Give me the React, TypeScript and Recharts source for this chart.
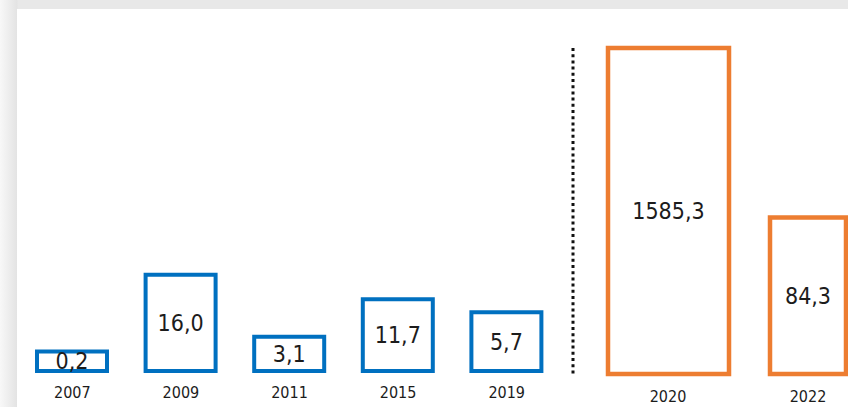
import React from "react";
import { BarChart, Bar, XAxis, YAxis, LabelList } from "recharts";

// blue period, values shown inside the boxes
const blueYears = ["2007", "2009", "2011", "2015", "2019"];
const blueValues = [0.2, 16.0, 3.1, 11.7, 5.7];
// drawn box heights (schematic, 2020 box = 100)
const blueHeights = [6, 29.5, 10.5, 22, 18];

// orange period
const orangeYears = ["2020", "2022"];
const orangeValues = [1585.3, 84.3];
const orangeHeights = [100, 48];

const BLUE = "#0070c0";
const ORANGE = "#ed7d31";
const TEXT = "#1c1c1c";
const FONT = "'Liberation Sans Narrow', 'DejaVu Sans Condensed', 'Open Sans', sans-serif";

const fmt = (v: any) => Number(v).toFixed(1).replace(".", ",");

const blueData = blueYears.map((year, i) => ({
  year,
  value: blueValues[i],
  h: blueHeights[i],
}));

const orangeData = orangeYears.map((year, i) => ({
  year,
  value: orangeValues[i],
  wide: i === 0 ? orangeHeights[i] : null,
  narrow: i === 1 ? orangeHeights[i] : null,
}));

const labelStyle = { fontSize: 23, fill: TEXT, fontFamily: FONT };
const tickStyle = { fontSize: 16, fill: TEXT, fontFamily: FONT };

export default function App() {
  return (
    <div
      style={{
        position: "absolute",
        left: 0,
        top: 0,
        width: 848,
        height: 407,
        overflow: "hidden",
        background: "linear-gradient(to right, #f8f8f8 0px, #e3e3e3 17px, #e8e8e8 18px)",
      }}
    >
      <div
        style={{
          position: "absolute",
          left: 17,
          top: 9,
          right: 0,
          bottom: 0,
          background: "#fff",
        }}
      />
      <div style={{ position: "absolute", left: 18, top: 0 }}>
        <BarChart
          width={543}
          height={407}
          data={blueData}
          margin={{ top: 45, right: 0, bottom: 0, left: 0 }}
          barSize={70}
        >
          <XAxis
            dataKey="year"
            height={36}
            axisLine={false}
            tickLine={false}
            tickSize={0}
            tickMargin={16}
            tick={tickStyle}
            interval={0}
          />
          <YAxis hide domain={[0, 100]} />
          <Bar dataKey="h" fill="#fff" stroke={BLUE} strokeWidth={4} isAnimationActive={false}>
            <LabelList dataKey="value" position="center" formatter={fmt} style={labelStyle} />
          </Bar>
        </BarChart>
      </div>
      <div style={{ position: "absolute", left: 563, top: 0 }}>
        <BarChart
          width={315}
          height={407}
          data={orangeData}
          margin={{ top: 48, right: 0, bottom: 0, left: 0 }}
        >
          <XAxis
            xAxisId="wide"
            dataKey="year"
            height={33}
            padding={{ left: 25, right: 0 }}
            axisLine={false}
            tickLine={false}
            tickSize={0}
            tickMargin={17}
            tick={tickStyle}
            interval={0}
          />
          <XAxis
            xAxisId="narrow"
            dataKey="year"
            hide
            height={0}
            padding={{ left: 25, right: 0 }}
          />
          <YAxis
            width={10}
            domain={[0, 100]}
            tick={false}
            tickLine={false}
            axisLine={{ stroke: "#111", strokeWidth: 3, strokeDasharray: "3 3.2" }}
          />
          <Bar
            xAxisId="wide"
            dataKey="wide"
            barSize={121}
            fill="#fff"
            stroke={ORANGE}
            strokeWidth={4.5}
            isAnimationActive={false}
          >
            <LabelList dataKey="value" position="center" formatter={fmt} style={labelStyle} />
          </Bar>
          <Bar
            xAxisId="narrow"
            dataKey="narrow"
            barSize={76}
            fill="#fff"
            stroke={ORANGE}
            strokeWidth={4.5}
            isAnimationActive={false}
          >
            <LabelList dataKey="value" position="center" formatter={fmt} style={labelStyle} />
          </Bar>
        </BarChart>
      </div>
    </div>
  );
}
